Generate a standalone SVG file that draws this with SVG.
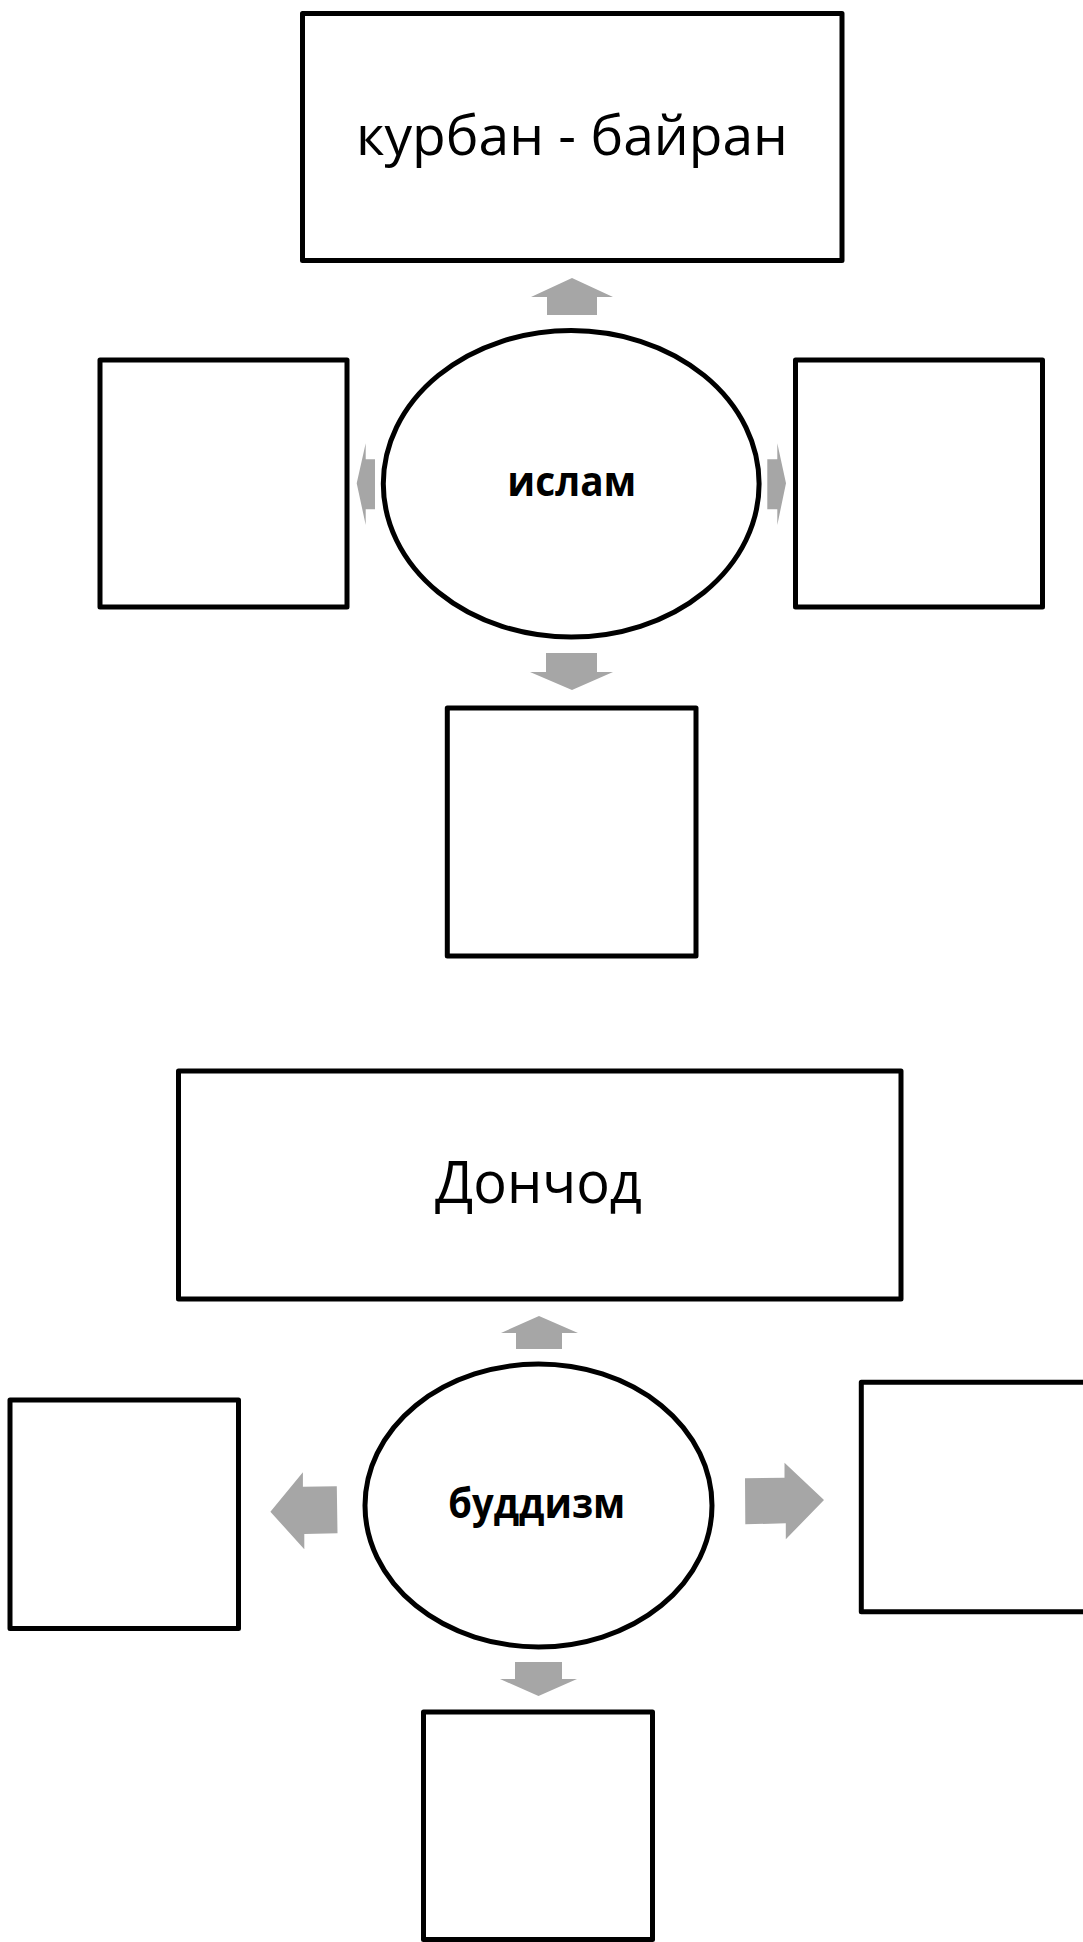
<svg xmlns="http://www.w3.org/2000/svg" width="1083" height="1942" viewBox="0 0 1083 1942">
<style>
.box{fill:#ffffff;stroke:#000000;stroke-width:5;stroke-linejoin:round}
.ell{fill:#ffffff;stroke:#000000;stroke-width:5}
.arr{fill:#a6a6a6;stroke:none}
.lbl{font-family:"Open Sans","Noto Sans","Liberation Sans",sans-serif;fill:#000000}
.big{font-size:54px}
.bold{font-size:41px;font-weight:bold}
</style>
<rect width="1083" height="1942" fill="#ffffff"/>
<g id="connectors">
<polygon class="arr" points="572,278 613,297 597,297 597,315 547,315 547,297 531,297"/>
<polygon class="arr" points="356.7,483.3 365.7,443.3 365.7,459.3 375,459.3 375,509.3 365.7,509.3 365.7,525"/>
<polygon class="arr" points="786,483.3 777.3,443.3 777.3,459.3 767.3,459.3 767.3,509.3 777.3,509.3 777.3,525"/>
<polygon class="arr" points="572,690 613,672 597,672 597,653 546,653 546,672 530,672"/>
<polygon class="arr" points="539,1316 578,1333 562,1333 562,1349 516,1349 516,1333 501,1333"/>
<polygon class="arr" points="270.4,1511.7 302.9,1472.3 302.9,1486.7 336.8,1486.2 337.5,1533.3 304.3,1534 304.3,1549.3"/>
<polygon class="arr" points="745,1478.3 784.5,1477.7 784.5,1462.7 824,1500 785.8,1539.3 785.8,1523.3 745.3,1524.3"/>
<polygon class="arr" points="538.5,1696 577,1679 562,1679 562,1662 515,1662 515,1679 500,1679"/>
</g>
<g id="islam-top">
<rect class="box" x="302.5" y="13.5" width="539.5" height="247"/>
<text class="lbl big" x="356" y="155" textLength="432" lengthAdjust="spacingAndGlyphs">курбан - байран</text>
</g>
<g id="islam">
<ellipse class="ell" cx="571.2" cy="483.8" rx="187.9" ry="153.3"/>
<text class="lbl bold" x="507.3" y="496" textLength="129" lengthAdjust="spacingAndGlyphs">ислам</text>
</g>
<g id="islam-left"><rect class="box" x="100" y="360" width="247" height="247"/></g>
<g id="islam-right"><rect class="box" x="795.5" y="360" width="247" height="247"/></g>
<g id="islam-bottom"><rect class="box" x="447.3" y="708" width="248.7" height="248"/></g>
<g id="buddhism-top">
<rect class="box" x="178.5" y="1071" width="722.5" height="228"/>
<text class="lbl" style="font-size:58px" x="435" y="1203" textLength="207" lengthAdjust="spacingAndGlyphs">Дончод</text>
</g>
<g id="buddhism">
<ellipse class="ell" cx="538.5" cy="1505.5" rx="173.5" ry="141.5"/>
<text class="lbl bold" x="448.3" y="1518" textLength="177" lengthAdjust="spacingAndGlyphs">буддизм</text>
</g>
<g id="buddhism-left"><rect class="box" x="10" y="1400" width="228.5" height="228.5"/></g>
<g id="buddhism-right"><rect class="box" x="861.3" y="1382.3" width="229" height="229.5"/></g>
<g id="buddhism-bottom"><rect class="box" x="423.5" y="1712" width="229" height="227.5"/></g>
</svg>
